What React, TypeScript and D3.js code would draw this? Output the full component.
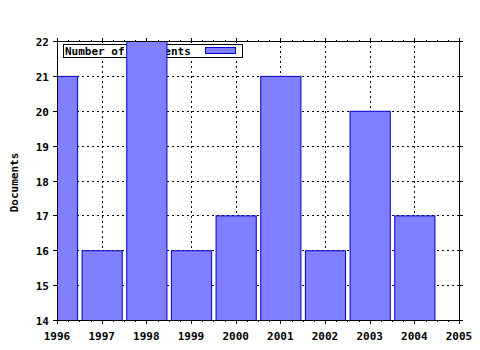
import React from "react";
import * as d3 from "d3";

const years = [1996, 1997, 1998, 1999, 2000, 2001, 2002, 2003, 2004];
const documents = [21, 16, 22, 16, 17, 21, 16, 20, 17];
const xTicks = [1996, 1997, 1998, 1999, 2000, 2001, 2002, 2003, 2004, 2005];
const yTicks = [14, 15, 16, 17, 18, 19, 20, 21, 22];
const seriesName = "Number of Documents";
const yTitle = "Documents";

const W = 480, H = 350;
const L = 57, R = 459, T = 41, B = 320;
const FONT = "'DejaVu Sans Mono', monospace";

export default function App() {
  const x = d3.scaleLinear().domain([1996, 2005]).range([L, R]);
  const y = d3.scaleLinear().domain([14, 22]).range([B, T]);
  const minor: number[] = [];
  for (let i = 0; i < xTicks.length - 1; i++) for (let k = 1; k < 4; k++) minor.push(xTicks[i] + k / 4);
  const half = 0.45;
  return (
    <svg width={W} height={H} style={{ position: "absolute", left: 0, top: 0 }}>
      <rect width={W} height={H} fill="#fff" />
      <defs>
        <clipPath id="plot"><rect x={L} y={T} width={R - L} height={B - T} /></clipPath>
      </defs>
      {/* grid */}
      <g stroke="#000" strokeWidth={1} strokeDasharray="2,3" shapeRendering="crispEdges">
        {xTicks.slice(1, -1).map((t) => (
          <line key={"gx" + t} x1={Math.round(x(t)) + 0.5} x2={Math.round(x(t)) + 0.5} y1={T} y2={B} />
        ))}
        {yTicks.slice(1, -1).map((t) => (
          <line key={"gy" + t} x1={L} x2={R} y1={Math.round(y(t)) + 0.5} y2={Math.round(y(t)) + 0.5} />
        ))}
      </g>
      {/* legend (behind bars) */}
      <g>
        <rect x={63.5} y={44.5} width={179} height={13} fill="#fff" stroke="#000" />
        <text x={65} y={55} fontFamily={FONT} fontWeight="bold" fontSize={11} fill="#000">{seriesName}</text>
        <rect x={205.5} y={47.5} width={30} height={6} fill="#8080ff" stroke="#0000cc" />
      </g>
      {/* bars */}
      <g clipPath="url(#plot)">
        {years.map((yr, i) => (
          <rect key={yr} x={x(yr - half) + 0.5} y={y(documents[i]) + 0.5}
            width={x(yr + half) - x(yr - half)} height={B - y(documents[i])}
            fill="#8080ff" stroke="#0000cc" strokeWidth={1} />
        ))}
      </g>
      {/* frame */}
      <rect x={L + 0.5} y={T + 0.5} width={R - L} height={B - T} fill="none" stroke="#000" />
      {/* ticks */}
      <g stroke="#000" shapeRendering="crispEdges">
        {xTicks.map((t) => (
          <g key={"tx" + t}>
            <line x1={Math.round(x(t)) + 0.5} x2={Math.round(x(t)) + 0.5} y1={B} y2={B + 4} />
            <line x1={Math.round(x(t)) + 0.5} x2={Math.round(x(t)) + 0.5} y1={T - 3} y2={T + 1} />
          </g>
        ))}
        {minor.map((t) => (
          <g key={"mx" + t}>
            <line x1={Math.round(x(t)) + 0.5} x2={Math.round(x(t)) + 0.5} y1={B} y2={B + 2} />
            <line x1={Math.round(x(t)) + 0.5} x2={Math.round(x(t)) + 0.5} y1={T - 1} y2={T + 1} />
          </g>
        ))}
        {yTicks.map((t) => (
          <g key={"ty" + t}>
            <line x1={L - 4} x2={L} y1={Math.round(y(t)) + 0.5} y2={Math.round(y(t)) + 0.5} />
            <line x1={R} x2={R + 4} y1={Math.round(y(t)) + 0.5} y2={Math.round(y(t)) + 0.5} />
          </g>
        ))}
      </g>
      {/* tick labels */}
      <g fontFamily={FONT} fontWeight="bold" fontSize={11} fill="#000">
        {xTicks.map((t) => (
          <text key={"lx" + t} x={x(t)} y={B + 20} textAnchor="middle">{t}</text>
        ))}
        {yTicks.map((t) => (
          <text key={"ly" + t} x={L - 8} y={y(t) + 5} textAnchor="end">{t}</text>
        ))}
        <text transform={`translate(18,${(T + B) / 2 + 2}) rotate(-90)`} textAnchor="middle">{yTitle}</text>
      </g>
    </svg>
  );
}
